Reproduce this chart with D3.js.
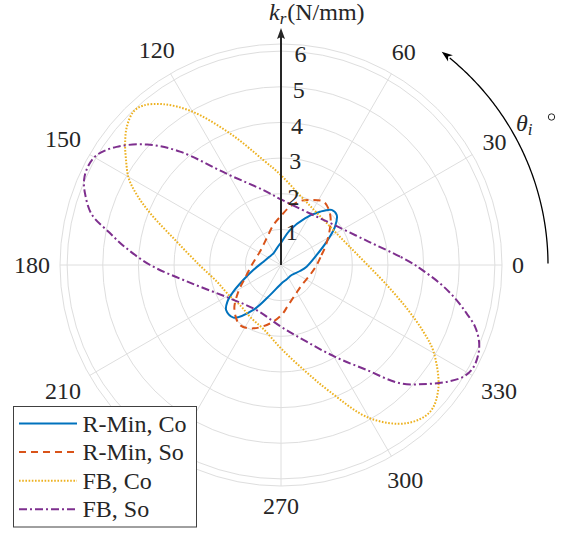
<!DOCTYPE html>
<html>
<head>
<meta charset="utf-8">
<script src="https://cdn.jsdelivr.net/npm/d3@7"></script>
<style>
  html, body { margin: 0; padding: 0; background: #fff; }
  svg { display: block; }
</style>
</head>
<body>
<svg id="chart" width="564" height="533"></svg>
<script>
// ---- data: polar angle (deg, ccw from 0) and k_r (N/mm) ----
const rMinCoTheta = [15.7, 27.1, 35.4, 41.9, 47.4, 53.8, 62.8, 75.6, 88.4, 102, 123.3, 145, 169.3, 190.2, 201.7, 209.2, 214.3, 219.3, 227.9, 238.4, 249.9, 272.1, 292, 316.8, 342.5, 356.3];
const rMinCoR     = [1.04, 1.44, 1.86, 2.10, 2.10, 1.85, 1.47, 1.01, 0.65, 0.50, 0.39, 0.40, 0.50, 0.79, 1.14, 1.53, 1.82, 1.99, 1.99, 1.48, 0.90, 0.51, 0.43, 0.41, 0.56, 0.72];

const rMinSoTheta = [0, 13.8, 24, 34.6, 43.2, 50.1, 56.2, 66, 73.5, 81.2, 89.2, 100.9, 118.3, 147.6, 180, 200.3, 212, 223.4, 235.7, 246.4, 259.3, 270.8, 280.4, 295, 315.9, 341];
const rMinSoR     = [1.00, 1.17, 1.38, 1.65, 1.91, 2.07, 2.14, 2.00, 1.87, 1.66, 1.40, 1.14, 0.85, 0.70, 0.82, 1.08, 1.41, 1.80, 2.04, 1.94, 1.67, 1.40, 1.14, 0.93, 0.81, 0.86];

const fbCoTheta = [0, 15, 30, 45, 60, 75, 90, 99.6, 111.2, 120.2, 126.2, 130.8, 133.9, 138.1, 142, 145.9, 150.3, 154.1, 158.6, 167.1, 180, 195, 210, 225, 239.7, 255, 270, 282.8, 291.1, 300.1, 308.5, 315.4, 321.9, 330.4, 334.9, 341, 349.3];
const fbCoR     = [2.43, 1.99, 1.79, 1.74, 1.81, 2.03, 2.52, 2.99, 3.96, 4.99, 5.59, 5.91, 5.97, 5.81, 5.55, 5.25, 4.92, 4.49, 3.92, 3.02, 2.29, 1.85, 1.69, 1.61, 1.70, 1.87, 2.34, 3.05, 3.81, 4.97, 5.67, 5.87, 5.61, 4.92, 4.41, 3.73, 3.02];

const fbSoTheta = [0, 4, 15, 36.3, 60, 90, 103.3, 120.4, 131.7, 138, 144.3, 149.2, 153, 156.6, 160, 165, 169.3, 173.5, 180, 190.7, 212.8, 240.9, 270, 288.5, 300.5, 309.2, 315.2, 320.8, 324.8, 328.5, 331.7, 335.5, 338.8, 342.4, 345.4, 349.2, 353.4, 358.6];
const fbSoR     = [3.76, 3.35, 2.54, 1.88, 1.66, 1.84, 2.16, 2.95, 4.26, 5.05, 5.68, 6.02, 6.08, 6.02, 5.85, 5.50, 4.90, 4.40, 3.67, 2.62, 1.72, 1.44, 1.73, 2.27, 2.99, 3.80, 4.71, 5.28, 5.69, 6.00, 6.11, 6.08, 5.96, 5.71, 5.38, 4.97, 4.49, 3.90];

const seriesNames = ["R-Min, Co", "R-Min, So", "FB, Co", "FB, So"];
const rTicks = [1, 2, 3, 4, 5, 6];
const rMax = 6.2;
const spokeAngles = [0, 30, 60, 90, 120, 150, 180, 210, 240, 270, 300, 330];
const thetaLabels = [0, 30, 60, 120, 150, 180, 210, 270, 300, 330];
const rAxisTitle = ["k", "r", "(N/mm)"];

// ---- styles ----
const colors = ["#0072BD", "#D95319", "#EDB120", "#7E2F8E"];
const dashes = [null, "7,5", "1.6,1.6", "8,3,2,3"];
const widths = [2, 2, 2, 2];
const FONT = "Liberation Serif";
const TXT = "#262626";

const svg = d3.select("#chart");
const cx = 281, cy = 265;
const outerR = 221;
const r = d3.scaleLinear().domain([0, rMax]).range([0, outerR]);
const toRad = d => d * Math.PI / 180;

const g = svg.append("g").attr("transform", `translate(${cx},${cy})`);

// grid rings
g.selectAll("circle.ring").data(rTicks.concat([rMax])).join("circle")
  .attr("class", "ring").attr("r", d => r(d))
  .attr("fill", "none").attr("stroke", "#dedede").attr("stroke-width", 1);

// spokes
g.selectAll("line.spoke").data(spokeAngles).join("line")
  .attr("class", "spoke")
  .attr("x1", 0).attr("y1", 0)
  .attr("x2", d => r(rMax) * Math.cos(toRad(d)))
  .attr("y2", d => -r(rMax) * Math.sin(toRad(d)))
  .attr("stroke", "#dedede").attr("stroke-width", 1);

// angle labels
const fs = 24;
const R0 = outerR + 10;
const labelG = svg.append("g");
thetaLabels.forEach(a => {
  const t = labelG.append("text").attr("font-family", FONT).attr("fill", TXT)
    .attr("font-size", fs).attr("text-anchor", "middle").text(a);
  const w = t.node().getComputedTextLength();
  const h = 20;
  const c = Math.cos(toRad(a)), s = Math.sin(toRad(a));
  const rr = R0 + Math.abs(c) * w / 2 + Math.abs(s) * h / 2;
  t.attr("x", cx + rr * c).attr("y", cy - rr * s + 0.33 * fs);
});

// curves
const seriesData = [
  [rMinCoTheta, rMinCoR],
  [rMinSoTheta, rMinSoR],
  [fbCoTheta, fbCoR],
  [fbSoTheta, fbSoR]
];
const line = d3.lineRadial()
  .angle(d => toRad(90 - d[0]))
  .radius(d => r(d[1]))
  .curve(d3.curveCatmullRomClosed.alpha(0.5));

seriesData.forEach(([th, rv], i) => {
  const pts = th.map((a, j) => [a, rv[j]]);
  g.append("path").datum(pts)
    .attr("d", line)
    .attr("fill", "none")
    .attr("stroke", colors[i])
    .attr("stroke-width", widths[i])
    .attr("stroke-dasharray", dashes[i])
    .attr("stroke-linejoin", "round");
});

// radial axis arrow (vertical)
const axTop = -(cy - 28);
g.append("line").attr("x1", 0).attr("y1", 0).attr("x2", 0).attr("y2", axTop + 8)
  .attr("stroke", TXT).attr("stroke-width", 2);
g.append("path")
  .attr("d", `M0,${axTop} L-4,${axTop + 11} L0,${axTop + 9} L4,${axTop + 11} Z`)
  .attr("fill", TXT);

// radial tick labels
rTicks.forEach(v => {
  const a = toRad(87.2);
  g.append("text").attr("font-family", FONT).attr("fill", TXT)
    .attr("font-size", fs).attr("text-anchor", "middle")
    .attr("x", r(v) * Math.cos(a) + 9)
    .attr("y", -r(v) * Math.sin(a) + 3 + 0.33 * fs).text(v);
});

// radial axis title
const title = svg.append("text").attr("font-family", FONT).attr("fill", TXT)
  .attr("x", 269).attr("y", 20).attr("font-size", fs);
title.append("tspan").attr("font-style", "italic").text(rAxisTitle[0]);
title.append("tspan").attr("font-style", "italic").attr("font-size", 17).attr("dy", 4).text(rAxisTitle[1]);
title.append("tspan").attr("dy", -4).attr("dx", 1).text(rAxisTitle[2]);

// theta direction arrow
const arcR = 267;
const arcPts = d3.range(0.3, 51.01, 0.5).map(a => [arcR * Math.cos(toRad(a)), -arcR * Math.sin(toRad(a))]);
g.append("path").attr("d", d3.line()(arcPts))
  .attr("fill", "none").attr("stroke", "#000").attr("stroke-width", 1.3);
{
  const tipA = toRad(53);
  const tip = [arcR * Math.cos(tipA), -arcR * Math.sin(tipA)];
  const tx = -Math.sin(tipA), ty = -Math.cos(tipA);
  const nx = -ty, ny = tx;
  const L = 11, Wd = 4;
  const b = [tip[0] - tx * L, tip[1] - ty * L];
  const m = [tip[0] - tx * (L - 3), tip[1] - ty * (L - 3)];
  g.append("path")
    .attr("d", `M${tip[0]},${tip[1]} L${b[0] + nx * Wd},${b[1] + ny * Wd} L${m[0]},${m[1]} L${b[0] - nx * Wd},${b[1] - ny * Wd} Z`)
    .attr("fill", "#000");
}
const th = svg.append("text").attr("font-family", FONT).attr("fill", TXT)
  .attr("x", 516).attr("y", 131).attr("font-size", fs);
th.append("tspan").attr("font-style", "italic").text("θ");
th.append("tspan").attr("font-style", "italic").attr("font-size", 17).attr("dy", 4).text("i");
svg.append("circle").attr("cx", 551.5).attr("cy", 117).attr("r", 3.2)
  .attr("fill", "none").attr("stroke", TXT).attr("stroke-width", 1);

// legend
const lg = svg.append("g");
lg.append("rect").attr("x", 13.5).attr("y", 406.5).attr("width", 183).attr("height", 120.5)
  .attr("fill", "#fff").attr("stroke", "#404040").attr("stroke-width", 1);
seriesNames.forEach((name, i) => {
  const y = 423.5 + i * 28.6;
  lg.append("line").attr("x1", 19).attr("x2", 77).attr("y1", y).attr("y2", y)
    .attr("stroke", colors[i]).attr("stroke-width", widths[i]).attr("stroke-dasharray", dashes[i]);
  lg.append("text").attr("font-family", FONT).attr("fill", TXT)
    .attr("x", 82.5).attr("y", y + 8).attr("font-size", fs).text(name);
});
</script>
</body>
</html>
